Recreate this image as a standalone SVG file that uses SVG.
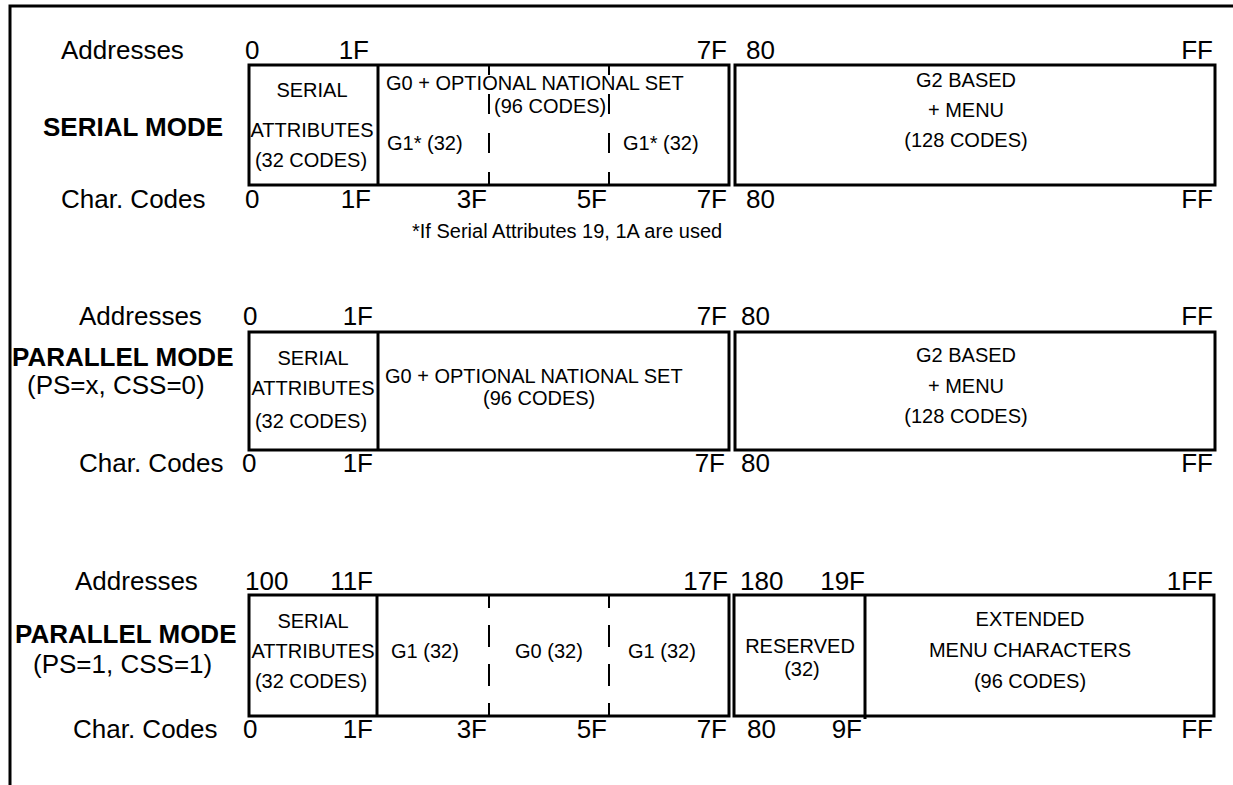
<svg xmlns="http://www.w3.org/2000/svg" width="1233" height="785" viewBox="0 0 1233 785">
<style>
text{font-family:"Liberation Sans",Arial,Helvetica,sans-serif;fill:#000}
.lbl{font-size:26px}
.mode{font-size:26px;font-weight:bold}
.sm{font-size:20px}
.c{text-anchor:middle}
.e{text-anchor:end}
.box{fill:none;stroke:#000;stroke-width:3}
.div{stroke:#000;stroke-width:3}
.d1{stroke:#000;stroke-width:2;stroke-dasharray:20 19;stroke-dashoffset:10}
.d3{stroke:#000;stroke-width:2;stroke-dasharray:22 17;stroke-dashoffset:9}
</style>
<rect width="1233" height="785" fill="#fff"/>
<path d="M10,785 V6 H1233" fill="none" stroke="#000" stroke-width="3"/>

<g id="serial-mode">
  <text class="lbl" x="61" y="59">Addresses</text>
  <text class="lbl" x="245" y="59">0</text>
  <text class="lbl e" x="369" y="59">1F</text>
  <text class="lbl e" x="727" y="59">7F</text>
  <text class="lbl" x="746" y="59">80</text>
  <text class="lbl e" x="1213" y="59">FF</text>
  <text class="mode" x="43" y="136">SERIAL MODE</text>
  <g id="s-attr">
    <rect class="box" x="249" y="65" width="480" height="120"/>
    <line class="div" x1="378" y1="65" x2="378" y2="185"/>
    <text class="sm c" x="312" y="97">SERIAL</text>
    <text class="sm c" x="312" y="137">ATTRIBUTES</text>
    <text class="sm c" x="311" y="167">(32 CODES)</text>
  </g>
  <g id="s-g0">
    <line class="d1" x1="489" y1="65" x2="489" y2="185"/>
    <line class="d1" x1="609" y1="65" x2="609" y2="185"/>
    <text class="sm" x="386" y="90">G0 + OPTIONAL NATIONAL SET</text>
    <text class="sm" x="494" y="113">(96 CODES)</text>
    <text class="sm" x="387" y="150">G1* (32)</text>
    <text class="sm" x="623" y="150">G1* (32)</text>
  </g>
  <g id="s-g2">
    <rect class="box" x="735" y="65" width="480" height="120"/>
    <text class="sm c" x="966" y="87">G2 BASED</text>
    <text class="sm c" x="966" y="117">+ MENU</text>
    <text class="sm c" x="966" y="147">(128 CODES)</text>
  </g>
  <text class="lbl" x="61" y="208">Char. Codes</text>
  <text class="lbl" x="245" y="208">0</text>
  <text class="lbl e" x="371" y="208">1F</text>
  <text class="lbl e" x="487" y="208">3F</text>
  <text class="lbl e" x="607" y="208">5F</text>
  <text class="lbl e" x="727" y="208">7F</text>
  <text class="lbl" x="746" y="208">80</text>
  <text class="lbl e" x="1213" y="208">FF</text>
  <text class="sm" x="412" y="238">*If Serial Attributes 19, 1A are used</text>
</g>

<g id="parallel-mode-0">
  <text class="lbl" x="79" y="325">Addresses</text>
  <text class="lbl" x="243" y="325">0</text>
  <text class="lbl e" x="373" y="325">1F</text>
  <text class="lbl e" x="727" y="325">7F</text>
  <text class="lbl" x="741" y="325">80</text>
  <text class="lbl e" x="1213" y="325">FF</text>
  <text class="mode" x="12" y="366">PARALLEL MODE</text>
  <text class="lbl" x="27" y="394">(PS=x, CSS=0)</text>
  <g id="p0-attr">
    <rect class="box" x="249" y="332" width="480" height="118"/>
    <line class="div" x1="378" y1="332" x2="378" y2="450"/>
    <text class="sm c" x="313" y="365">SERIAL</text>
    <text class="sm c" x="313" y="395">ATTRIBUTES</text>
    <text class="sm c" x="311" y="428">(32 CODES)</text>
  </g>
  <g id="p0-g0">
    <text class="sm" x="385" y="383">G0 + OPTIONAL NATIONAL SET</text>
    <text class="sm" x="483" y="405">(96 CODES)</text>
  </g>
  <g id="p0-g2">
    <rect class="box" x="735" y="332" width="480" height="118"/>
    <text class="sm c" x="966" y="362">G2 BASED</text>
    <text class="sm c" x="966" y="393">+ MENU</text>
    <text class="sm c" x="966" y="423">(128 CODES)</text>
  </g>
  <text class="lbl" x="79" y="472">Char. Codes</text>
  <text class="lbl" x="242" y="472">0</text>
  <text class="lbl e" x="373" y="472">1F</text>
  <text class="lbl e" x="725" y="472">7F</text>
  <text class="lbl" x="741" y="472">80</text>
  <text class="lbl e" x="1213" y="472">FF</text>
</g>

<g id="parallel-mode-1">
  <text class="lbl" x="75" y="590">Addresses</text>
  <text class="lbl" x="245" y="590">100</text>
  <text class="lbl e" x="373" y="590">11F</text>
  <text class="lbl e" x="728" y="590">17F</text>
  <text class="lbl" x="740" y="590">180</text>
  <text class="lbl e" x="865" y="590">19F</text>
  <text class="lbl e" x="1213" y="590">1FF</text>
  <text class="mode" x="15" y="643">PARALLEL MODE</text>
  <text class="lbl" x="33" y="673">(PS=1, CSS=1)</text>
  <g id="p1-attr">
    <rect class="box" x="249" y="595" width="480" height="121"/>
    <line class="div" x1="377" y1="595" x2="377" y2="716"/>
    <text class="sm c" x="313" y="628">SERIAL</text>
    <text class="sm c" x="313" y="658">ATTRIBUTES</text>
    <text class="sm c" x="311" y="688">(32 CODES)</text>
  </g>
  <g id="p1-g">
    <line class="d3" x1="489" y1="595" x2="489" y2="716"/>
    <line class="d3" x1="609" y1="595" x2="609" y2="716"/>
    <text class="sm" x="391" y="658">G1 (32)</text>
    <text class="sm" x="515" y="658">G0 (32)</text>
    <text class="sm" x="628" y="658">G1 (32)</text>
  </g>
  <g id="p1-reserved">
    <rect class="box" x="734" y="595" width="480" height="121"/>
    <line class="div" x1="865" y1="595" x2="865" y2="719"/>
    <text class="sm c" x="800" y="653">RESERVED</text>
    <text class="sm c" x="802" y="676">(32)</text>
  </g>
  <g id="p1-ext">
    <text class="sm c" x="1030" y="626">EXTENDED</text>
    <text class="sm c" x="1030" y="657">MENU CHARACTERS</text>
    <text class="sm c" x="1030" y="688">(96 CODES)</text>
  </g>
  <text class="lbl" x="73" y="738">Char. Codes</text>
  <text class="lbl" x="243" y="738">0</text>
  <text class="lbl e" x="373" y="738">1F</text>
  <text class="lbl e" x="487" y="738">3F</text>
  <text class="lbl e" x="607" y="738">5F</text>
  <text class="lbl e" x="727" y="738">7F</text>
  <text class="lbl" x="747" y="738">80</text>
  <text class="lbl e" x="862" y="738">9F</text>
  <text class="lbl e" x="1213" y="738">FF</text>
</g>
</svg>
